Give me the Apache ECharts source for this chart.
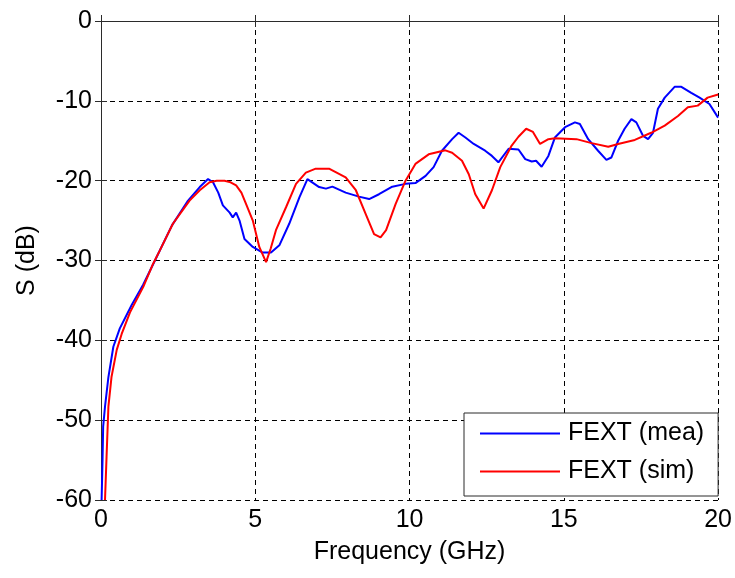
<!DOCTYPE html>
<html>
<head>
<meta charset="utf-8">
<script src="https://cdn.jsdelivr.net/npm/echarts@6/dist/echarts.min.js"></script>
<style>html,body{margin:0;padding:0;background:#fff}#c{width:735px;height:578px}</style>
</head>
<body>
<div id="c"></div>
<script>
var xTicks = [0, 5, 10, 15, 20];
var yTicks = [-60, -50, -40, -30, -20, -10, 0];
var seriesNames = ['FEXT (mea)', 'FEXT (sim)'];

var meaFreq = [0.02,0.05,0.07,0.13,0.24,0.40,0.61,0.99,1.37,1.80,2.3,2.8,3.20,3.47,3.63,3.80,3.95,4.17,4.27,4.38,4.49,4.65,4.92,5.24,5.51,5.78,6.10,6.43,6.69,7.07,7.29,7.50,7.93,8.36,8.69,9.01,9.44,9.87,10.19,10.52,10.78,11.05,11.38,11.59,11.81,12.08,12.45,12.67,12.88,13.21,13.53,13.75,13.96,14.10,14.28,14.50,14.71,15.04,15.36,15.52,15.79,16.11,16.38,16.54,16.76,16.97,17.19,17.35,17.57,17.73,17.89,18.05,18.27,18.59,18.81,19.13,19.40,19.72,20.0];
var meaDb = [-60,-55,-50.8,-48.3,-44.6,-40.8,-38.5,-35.6,-33.0,-29.6,-25.6,-22.6,-20.8,-19.8,-20.2,-21.5,-23.1,-24.0,-24.6,-24.0,-25.0,-27.3,-28.3,-29.0,-29.0,-28.1,-25.4,-22.1,-19.8,-20.8,-21.0,-20.75,-21.5,-22.0,-22.3,-21.7,-20.75,-20.4,-20.3,-19.4,-18.3,-16.25,-14.8,-14.0,-14.6,-15.4,-16.25,-16.9,-17.7,-16.0,-16.1,-17.3,-17.6,-17.5,-18.25,-16.9,-14.6,-13.3,-12.7,-12.9,-14.8,-16.25,-17.4,-17.1,-15.0,-13.5,-12.3,-12.7,-14.4,-14.8,-14.0,-11.0,-9.6,-8.25,-8.25,-9.0,-9.6,-10.4,-12.1];

var simFreq = [0.13,0.18,0.24,0.34,0.51,0.67,0.94,1.37,1.69,1.90,2.33,2.87,3.2,3.52,3.75,4.0,4.2,4.38,4.55,4.70,4.92,5.13,5.35,5.50,5.67,6.0,6.32,6.64,6.96,7.39,7.93,8.26,8.58,8.85,9.06,9.24,9.55,9.87,10.19,10.62,11.16,11.38,11.70,11.92,12.13,12.40,12.67,12.94,13.31,13.53,13.78,14.0,14.23,14.50,14.71,15.41,15.90,16.44,16.76,17.30,17.83,18.27,18.70,19.02,19.34,19.66,20.0];
var simDb = [-60,-54.6,-48.3,-44.6,-41.2,-39.2,-36.5,-33.3,-30.4,-28.8,-25.4,-22.5,-21.2,-20.2,-20.0,-20.0,-20.2,-20.6,-21.5,-22.9,-25.0,-28.3,-30.2,-28.5,-26.2,-23.3,-20.4,-19.0,-18.5,-18.5,-19.6,-21.2,-24.2,-26.7,-27.1,-26.2,-22.9,-20.0,-17.9,-16.7,-16.2,-16.5,-17.5,-19.2,-21.7,-23.5,-21.2,-18.3,-15.6,-14.5,-13.5,-13.9,-15.4,-14.8,-14.7,-14.8,-15.3,-15.75,-15.4,-14.9,-14.0,-13.1,-11.9,-10.8,-10.6,-9.6,-9.2];

function pairs(xs, ys) { return xs.map(function (x, i) { return [x, ys[i]]; }); }

var FONT = "'Liberation Sans', Arial, sans-serif";
var axisLineStyle = { color: '#2b2b2b', width: 1 };
var gridLine = { show: true, lineStyle: { color: '#000', type: [5, 4], width: 1 } };

var chart = echarts.init(document.getElementById('c'));
chart.setOption({
  animation: false,
  backgroundColor: '#fff',
  textStyle: { fontFamily: FONT },
  grid: { left: 101, right: 15, top: 21, bottom: 78, containLabel: false },
  legend: {
    orient: 'vertical', left: 464, top: 413,
    padding: [8, 14, 12, 16], itemGap: 13,
    itemWidth: 80, itemHeight: 2, icon: 'rect',
    backgroundColor: '#fff', borderColor: '#2b2b2b', borderWidth: 1, borderRadius: 0,
    textStyle: { fontFamily: FONT, fontSize: 25, color: '#000', padding: [0, 0, 0, 3] },
    data: seriesNames
  },
  xAxis: [{
    type: 'value', min: xTicks[0], max: xTicks[xTicks.length - 1], interval: 5, position: 'bottom',
    axisLine: { show: true, lineStyle: axisLineStyle },
    axisTick: { show: true, inside: true, length: 6, lineStyle: axisLineStyle },
    axisLabel: { fontFamily: FONT, fontSize: 25, color: '#000', margin: 8 },
    splitLine: gridLine,
    name: 'Frequency (GHz)', nameLocation: 'middle', nameGap: 40,
    nameTextStyle: { fontFamily: FONT, fontSize: 25, color: '#000' }
  }, {
    type: 'value', min: xTicks[0], max: xTicks[xTicks.length - 1], interval: 5, position: 'top',
    axisLine: { show: true, lineStyle: axisLineStyle },
    axisTick: { show: true, inside: true, length: 6, lineStyle: axisLineStyle },
    axisLabel: { show: false }, splitLine: { show: false }
  }],
  yAxis: [{
    type: 'value', min: yTicks[0], max: yTicks[yTicks.length - 1], interval: 10, position: 'left',
    axisLine: { show: true, lineStyle: axisLineStyle },
    axisTick: { show: true, inside: true, length: 6, lineStyle: axisLineStyle },
    axisLabel: { fontFamily: FONT, fontSize: 25, color: '#000', margin: 9 },
    splitLine: gridLine,
    name: 'S (dB)', nameLocation: 'middle', nameGap: 61, nameRotate: 90,
    nameTextStyle: { fontFamily: FONT, fontSize: 25, color: '#000' }
  }, {
    type: 'value', min: yTicks[0], max: yTicks[yTicks.length - 1], interval: 10, position: 'right',
    axisLine: { show: true, lineStyle: axisLineStyle },
    axisTick: { show: true, inside: true, length: 6, lineStyle: axisLineStyle },
    axisLabel: { show: false }, splitLine: { show: false }
  }],
  series: [{
    name: seriesNames[0], type: 'line', xAxisIndex: 0, yAxisIndex: 0,
    showSymbol: false, symbol: 'none', smooth: false,
    lineStyle: { color: '#0000ff', width: 2 }, itemStyle: { color: '#0000ff' },
    data: pairs(meaFreq, meaDb)
  }, {
    name: seriesNames[1], type: 'line', xAxisIndex: 0, yAxisIndex: 0,
    showSymbol: false, symbol: 'none', smooth: false,
    lineStyle: { color: '#ff0000', width: 2 }, itemStyle: { color: '#ff0000' },
    data: pairs(simFreq, simDb)
  }]
});
</script>
</body>
</html>
